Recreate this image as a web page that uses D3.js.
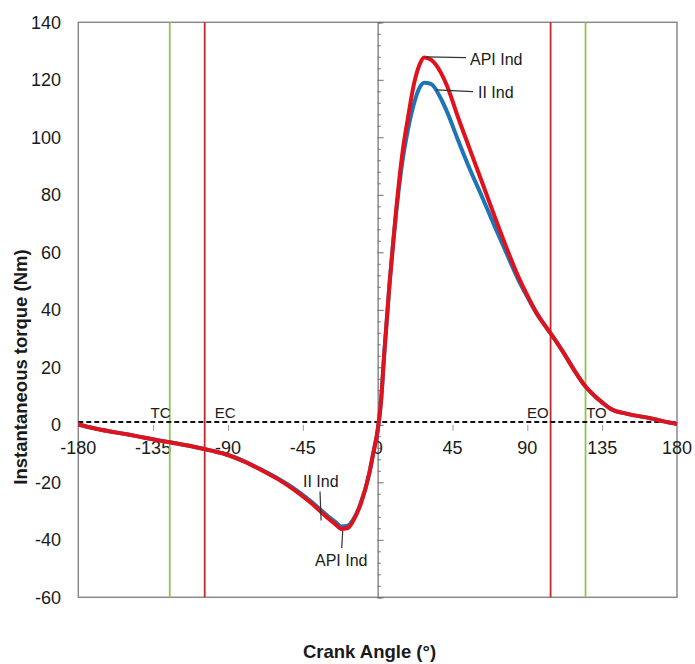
<!DOCTYPE html>
<html>
<head>
<meta charset="utf-8">
<script src="https://cdn.jsdelivr.net/npm/d3@7"></script>
<style>
  body { margin: 0; background: #fff; }
  text { font-family: "Liberation Sans", Arial, sans-serif; fill: #1a1a1a; }
</style>
</head>
<body>
<div id="chart"></div>
<script>
// crank angle (deg) shared by both series
const angles = [-180, -170, -160, -150, -140, -130, -120, -110, -100, -90, -80, -70, -60, -50, -40, -30, -25, -22, -18, -15, -10, -5, -2.5, 0, 2, 4, 7, 11, 15, 18, 22, 25, 28, 32, 38, 42, 48, 55, 63, 70, 78, 85, 90, 96, 100, 104, 111, 118, 125, 130, 135, 140, 150, 164, 172, 180];

// II Ind torque (Nm)
const iiInd = [0.1, -1.3, -2.4, -3.4, -4.5, -5.6, -6.6, -7.7, -9.0, -10.5, -12.8, -15.6, -18.7, -22.3, -26.7, -31.7, -34.0, -35.4, -35.1, -33.2, -27.0, -16.8, -9.5, -2, 8, 25, 48, 73, 92, 102, 112, 117, 119, 118.6, 113.5, 108.5, 99.5, 89.5, 79, 69.5, 59, 50, 44.5, 38.3, 35, 31.8, 25.8, 19.2, 13.3, 10.3, 7.8, 5.6, 3.8, 2.3, 1.2, 0.3];

// API Ind torque (Nm)
const apiInd = [0.1, -1.3, -2.4, -3.4, -4.5, -5.6, -6.6, -7.7, -9.0, -10.5, -12.8, -15.7, -18.9, -22.7, -27.2, -32.4, -34.8, -36.2, -35.9, -33.7, -27.2, -16.8, -9.5, -2, 8, 25, 48, 74, 95, 106, 119, 125, 127.8, 127, 122.5, 117.5, 107.5, 96.5, 84, 73, 60.8, 51, 45, 38.5, 35, 31.8, 25.8, 19.2, 13.3, 10.3, 7.8, 5.6, 3.8, 2.3, 1.2, 0.3];

const xTicks = [-180, -135, -90, -45, 0, 45, 90, 135, 180];
const yTicks = [140, 120, 100, 80, 60, 40, 20, 0, -20, -40, -60];

// valve / port events
const markerNames = ["TC", "EC", "EO", "TO"];
const markerAngles = [-125, -104, 104, 125];
const markerColors = ["#8fc552", "#c1272d", "#c1272d", "#8fc552"];

const meanTorque = 1;

const width = 695;
const height = 664;
const plotLeft = 78.3, plotRight = 677, plotTop = 22.3, plotBottom = 597.3;

const svg = d3.select("#chart")
    .append("svg")
    .attr("width", width)
    .attr("height", height);

const x = d3.scaleLinear().domain([-180, 180]).range([plotLeft, plotRight]);
const y = d3.scaleLinear().domain([-60, 140]).range([plotBottom, plotTop]);

// plot frame
svg.append("rect")
    .attr("x", plotLeft).attr("y", plotTop)
    .attr("width", plotRight - plotLeft).attr("height", plotBottom - plotTop)
    .attr("fill", "none")
    .attr("stroke", "#8a8a8a")
    .attr("stroke-width", 1.5);

// y tick labels on the frame
svg.append("g")
    .selectAll("text")
    .data(yTicks)
    .enter().append("text")
    .attr("x", 61)
    .attr("y", d => y(d))
    .attr("dy", "0.36em")
    .attr("text-anchor", "end")
    .attr("font-size", 18)
    .text(d => d);

// vertical axis through 0 with ticks to the right
const yAxis = d3.axisRight(y)
    .tickValues(d3.range(-60, 141, 4))
    .tickSize(4)
    .tickFormat("");
const yg = svg.append("g")
    .attr("transform", `translate(${x(0)},0)`)
    .call(yAxis);
yg.select(".domain").attr("stroke", "#6e6e6e").attr("stroke-width", 1.2);
yg.selectAll(".tick line")
    .attr("stroke", "#6e6e6e")
    .attr("x2", d => d % 20 === 0 ? 6 : 3);

// horizontal ticks at y = 0
const xAxis = d3.axisBottom(x)
    .tickValues(xTicks.filter(d => d !== 0 && Math.abs(d) !== 180))
    .tickSize(6)
    .tickFormat("");
const xg = svg.append("g")
    .attr("transform", `translate(0,${y(0)})`)
    .call(xAxis);
xg.select(".domain").remove();
xg.selectAll(".tick line").attr("stroke", "#9a9a9a");

// x tick labels
svg.append("g")
    .selectAll("text")
    .data(xTicks)
    .enter().append("text")
    .attr("x", d => x(d))
    .attr("y", y(0) + 23)
    .attr("dy", "0.36em")
    .attr("text-anchor", "middle")
    .attr("font-size", 18)
    .text(d => d);

// event lines
svg.append("g")
    .selectAll("line")
    .data(markerAngles)
    .enter().append("line")
    .attr("x1", d => x(d)).attr("x2", d => x(d))
    .attr("y1", plotTop).attr("y2", plotBottom)
    .attr("stroke", (d, i) => markerColors[i])
    .attr("stroke-width", 1.8);

// event labels
const markerLabelX = [-130.5, -91.7, 96.4, 131.6];
svg.append("g")
    .selectAll("text")
    .data(markerNames)
    .enter().append("text")
    .attr("x", (d, i) => x(markerLabelX[i]))
    .attr("y", y(0) - 12)
    .attr("dy", "0.36em")
    .attr("text-anchor", "middle")
    .attr("font-size", 15)
    .text(d => d);

// mean torque dashed line
svg.append("line")
    .attr("x1", plotLeft).attr("x2", plotRight)
    .attr("y1", y(meanTorque)).attr("y2", y(meanTorque))
    .attr("stroke", "#111")
    .attr("stroke-width", 2)
    .attr("stroke-dasharray", "5,3");

const line = d3.line()
    .x((d, i) => x(angles[i]))
    .y(d => y(d))
    .curve(d3.curveMonotoneX);

svg.append("path")
    .datum(iiInd)
    .attr("d", line)
    .attr("fill", "none")
    .attr("stroke", "#1f73b7")
    .attr("stroke-width", 4);

svg.append("path")
    .datum(apiInd)
    .attr("d", line)
    .attr("fill", "none")
    .attr("stroke", "#e0121c")
    .attr("stroke-width", 4);

// curve annotations: [text, anchor angle, anchor value, end x, end y, text x, text y]
const notes = [
    ["API Ind", 29, 128, 466, 57.7, 470, 59],
    ["II Ind", 35, 116.5, 473, 91.7, 478, 92],
    ["II Ind", -34, -33.3, 320, 491.5, 303, 481],
    ["API Ind", -21, -36.9, 341.7, 548, 315, 560]
];
const ng = svg.append("g");
notes.forEach(n => {
    ng.append("line")
        .attr("x1", x(n[1])).attr("y1", y(n[2]))
        .attr("x2", n[3]).attr("y2", n[4])
        .attr("stroke", "#333")
        .attr("stroke-width", 1.2);
    ng.append("text")
        .attr("x", n[5]).attr("y", n[6])
        .attr("dy", "0.36em")
        .attr("font-size", 16)
        .text(n[0]);
});

// axis titles
svg.append("text")
    .attr("x", 369.5).attr("y", 658)
    .attr("text-anchor", "middle")
    .attr("font-size", 18.5)
    .attr("font-weight", "bold")
    .text("Crank Angle (°)");

svg.append("text")
    .attr("transform", "translate(27,367) rotate(-90)")
    .attr("text-anchor", "middle")
    .attr("font-size", 18.5)
    .attr("font-weight", "bold")
    .text("Instantaneous torque (Nm)");
</script>
</body>
</html>
